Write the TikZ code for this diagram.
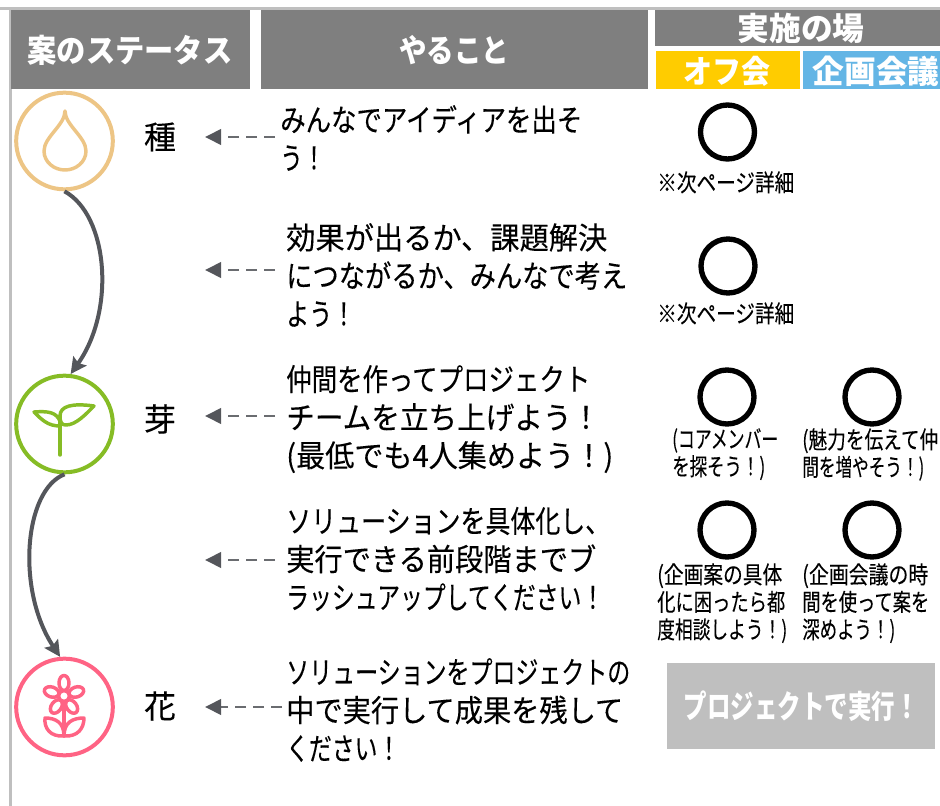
\documentclass[tikz,border=0pt]{standalone}
\usepackage{fontspec}
\usepackage{graphicx}
\usetikzlibrary{arrows.meta}
\setmainfont{Noto Sans CJK JP}
\newfontfamily\thickjp[FakeBold=0.2]{Noto Sans CJK JP}
\newcommand\fitw[2]{\resizebox{0.75\dimexpr #1pt\relax}{\height}{#2}}
\definecolor{hdr}{HTML}{7F7F7F}
\definecolor{edge}{HTML}{BFBFBF}
\definecolor{conn}{HTML}{54565B}
\definecolor{dashc}{HTML}{6A6C70}
\definecolor{seedc}{HTML}{EDC585}
\definecolor{sproutc}{HTML}{86BC25}
\definecolor{flowerc}{HTML}{FF6384}
\definecolor{yel}{HTML}{FFCC00}
\definecolor{blu}{HTML}{63B5E5}
\tikzset{
  px/.style={x=0.75pt,y=-0.75pt},
  hbox/.style={draw=none,inner sep=0pt,text=white,font=\bfseries\fontsize{24}{28}\selectfont},
  stat/.style={circle,draw=#1,line width=3pt,minimum size=72.5pt,inner sep=0pt,fill=white},
  statlabel/.style={font=\thickjp\fontsize{24}{28}\selectfont,inner sep=0pt},
  body/.style={anchor=west,align=left,inner sep=0pt,font=\thickjp\fontsize{23}{28.6}\selectfont},
  small/.style={anchor=north west,align=left,inner sep=0pt,font=\thickjp\fontsize{18}{20.6}\selectfont},
  ring/.style={circle,draw=black,line width=4pt,minimum size=40.5pt,inner sep=0pt},
  flow/.style={draw=conn,line width=3pt,-{Stealth[length=12pt,width=12pt,inset=2pt]}},
  dashar/.style={draw=dashc,line width=2pt,dash pattern=on 8pt off 5.5pt,-{Triangle[length=12pt,width=11.5pt,fill=conn,color=conn]}},
  icon/.style={line width=2.6pt,line cap=round,line join=round}
}
\begin{document}
\begin{tikzpicture}[px]
\useasboundingbox (0,0) rectangle (940,806);
% frame lines
\fill[edge] (0,7) rectangle (940,10);
\fill[edge] (9,7) rectangle (12,806);
% headers
\path[fill=hdr] (11,10) rectangle (250,89);
\path[fill=hdr] (261,10) rectangle (648,89);
\path[fill=hdr] (655,10) rectangle (940,46);
\path[fill=yel] (656,51) rectangle (800,89);
\path[fill=blu] (803,51) rectangle (940,89);
\node[hbox] (h1) at (130,50) {\fitw{205}{案のステータス}};
\node[hbox] (h2) at (454,50) {\fitw{110}{やること}};
\node[hbox] (h3) at (801,28) {\fitw{127}{実施の場}};
\node[hbox] (h4) at (727,71) {\fitw{87}{オフ会}};
\node[hbox] (h5) at (876,71) {\fitw{127}{企画会議}};
% status circles
\node[stat=seedc] (seed) at (64.5,141) {};
\node[stat=sproutc] (sprout) at (64.5,424) {};
\node[stat=flowerc] (flower) at (64.5,707) {};
% seed icon
\draw[seedc,icon] (65,111) .. controls (65,125) and (44,137) .. (44,151)
  .. controls (44,162) and (54,170) .. (65,170)
  .. controls (76,170) and (86,162) .. (86,151)
  .. controls (86,137) and (65,125) .. (65,111) -- cycle;
% sprout icon
\draw[sproutc,icon] (60,455) -- (60,416);
\draw[sproutc,icon] (60,421) .. controls (56,412) and (48,411) .. (34,412)
  .. controls (42,420) and (48,426) .. (60,426);
\draw[sproutc,icon] (60,416) .. controls (60,406) and (72,403) .. (94,406)
  .. controls (86,414) and (76,425) .. (66,425) .. controls (62,425) and (60,423) .. (60,416) -- cycle;
% flower icon
\draw[flowerc,icon] (64,700) -- (64,736);
\foreach \a in {90,162,234,306,18}
  \draw[flowerc,icon,fill=white,shift={(64,696)},rotate=\a] (13,0) ellipse[x radius=7.5,y radius=5];
\draw[flowerc,icon,fill=white] (64,696) circle[radius=5.5];
\draw[flowerc,icon] (64,736) .. controls (50,737) and (44,728) .. (45,718) .. controls (55,718) and (64,722) .. (64,736);
\draw[flowerc,icon] (64,736) .. controls (78,737) and (84,728) .. (84,718) .. controls (73,718) and (64,722) .. (64,736);
% status labels
\node[statlabel] (l1) at (160,137) {種};
\node[statlabel] (l2) at (160,419) {芽};
\node[statlabel] (l3) at (160,706) {花};
% flow arrows
\draw[flow] (seed.south) .. controls (108,215) and (116,310) .. (sprout.83);
\draw[flow] (sprout.south) .. controls (24,490) and (16,590) .. (flower.95);
% body text
\node[body] (t1) at (280,138) {\fitw{302}{みんなでアイディアを出そ}\\\fitw{45}{う！}};
\node[body] (t2) at (286,275) {\fitw{321}{効果が出るか、課題解決}\\\fitw{341}{につながるか、みんなで考え}\\\fitw{69}{よう！}};
\node[body] (t3) at (286,419) {\fitw{304}{仲間を作ってプロジェクト}\\\fitw{314}{チームを立ち上げよう！}\\\fitw{327}{(最低でも4人集めよう！)}};
\node[body] (t4) at (286,559) {\fitw{324}{ソリューションを具体化し、}\\\fitw{310}{実行できる前段階までブ}\\\fitw{318}{ラッシュアップしてください！}};
\node[body] (t5) at (286,710) {\fitw{344}{ソリューションをプロジェクトの}\\\fitw{337}{中で実行して成果を残して}\\\fitw{114}{ください！}};
% dashed arrows
\coordinate (a1) at (275,137); \coordinate (b1) at (205,137);
\coordinate (a2) at (275,270); \coordinate (b2) at (205,270);
\coordinate (a3) at (275,416); \coordinate (b3) at (205,416);
\coordinate (a4) at (275,560); \coordinate (b4) at (205,560);
\coordinate (a5) at (282,707); \coordinate (b5) at (205,707);
\foreach \i in {1,...,5} \draw[dashar] (a\i) -- (b\i);
% rings
\node[ring] (r1) at (727.5,132) {};
\node[ring] (r2) at (728,266) {};
\node[ring] (r3) at (727,397) {};
\node[ring] (r4) at (872,397) {};
\node[ring] (r5) at (727,530) {};
\node[ring] (r6) at (872,530) {};
% small text
\node[small] (s1) at (657,171) {\fitw{137}{※次ページ詳細}};
\node[small] (s2) at (657,302) {\fitw{137}{※次ページ詳細}};
\node[small] (s3) at (672,428) {\fitw{106}{(コアメンバー}\\\fitw{93}{を探そう！)}};
\node[small] (s4) at (802,428) {\fitw{136}{(魅力を伝えて仲}\\\fitw{122}{間を増やそう！)}};
\node[small] (s5) at (657,563) {\fitw{125}{(企画案の具体}\\\fitw{128}{化に困ったら都}\\\fitw{130}{度相談しよう！)}};
\node[small] (s6) at (802,563) {\fitw{126}{(企画会議の時}\\\fitw{127}{間を使って案を}\\\fitw{93}{深めよう！)}};
% run box
\node[draw=none,fill=edge,minimum width=201pt,minimum height=64.5pt,inner sep=0pt,text=white,font=\bfseries\fontsize{24}{28}\selectfont] (run) at (801,706) {\fitw{235}{プロジェクトで実行！}};
\end{tikzpicture}
\end{document}
